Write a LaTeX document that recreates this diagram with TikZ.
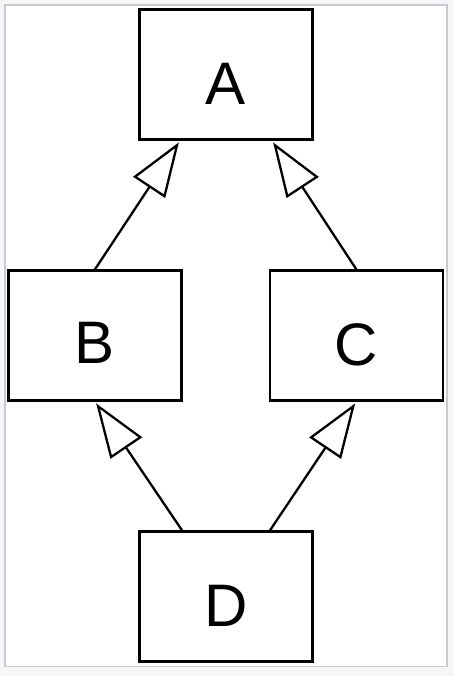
\documentclass[tikz,border=0pt]{standalone}
\usepackage{fontspec}
\setmainfont{Liberation Sans}
\usetikzlibrary{arrows.meta,calc}
\definecolor{framegray}{HTML}{C8CAD0}
\definecolor{outsidebg}{HTML}{F5F6F8}
\tikzset{
  classbox/.style={draw=black, line width=2.4pt, fill=white, rectangle,
    minimum width=173pt, minimum height=130pt, inner sep=0pt},
  lbl/.style={font=\fontsize{60}{60}\selectfont, anchor=base, inner sep=0pt},
  inherit/.style={draw=black, line width=2.3pt, shorten >=2pt,
    -{Triangle[open, length=54pt, width=38pt, fill=white]}}
}
\begin{document}
\begin{tikzpicture}[x=1pt,y=-1pt]
\useasboundingbox (0,0) rectangle (454,676);
\fill[outsidebg] (0,0) rectangle (454,676);
\draw[framegray, line width=1.5pt, fill=white] (5,5) rectangle (447,666.5);

\node[classbox] (A) at (226,74.5) {};
\node[classbox] (B) at (95,335.5) {};
\node[classbox] (C) at (356.3,335.5) {};
\node[classbox] (D) at (226,596.5) {};

\node[lbl] (lA) at ($(A.center)+(0,30)$) {A};
\node[lbl] (lB) at ($(B.center)+(0,28)$) {B};
\node[lbl] (lC) at ($(C.center)+(0,30)$) {C};
\node[lbl] (lD) at ($(D.center)+(0,30)$) {D};

\coordinate (aL) at ($(A.south)+(-46,0)$);
\coordinate (aR) at ($(A.south)+(46,0)$);
\coordinate (dL) at ($(D.north)+(-44,0)$);
\coordinate (dR) at ($(D.north)+(44,0)$);

\draw[inherit] (B.north) -- (aL);
\draw[inherit] (C.north) -- (aR);
\draw[inherit] (dL) -- (B.south);
\draw[inherit] (dR) -- (C.south);
\end{tikzpicture}
\end{document}
